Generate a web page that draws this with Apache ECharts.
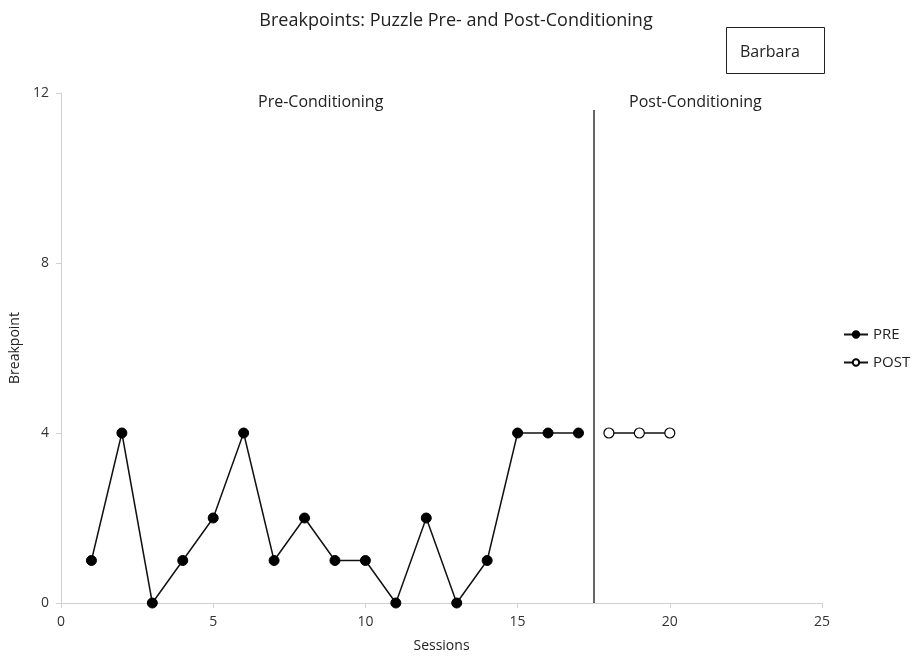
<!DOCTYPE html>
<html>
<head>
<meta charset="utf-8">
<script src="https://cdn.jsdelivr.net/npm/echarts@6/dist/echarts.min.js"></script>
<style>html,body{margin:0;padding:0;background:#fff}#c{width:912px;height:658px}</style>
</head>
<body>
<div id="c"></div>
<script>
var preSessions = [1,2,3,4,5,6,7,8,9,10,11,12,13,14,15,16,17];
var preValues   = [1,4,0,1,2,4,1,2,1,1,0,2,0,1,4,4,4];
var postSessions = [18,19,20];
var postValues   = [4,4,4];
var phaseLineX = 17.5;
var phaseLineTop = 11.6;
var xTicks = [0,5,10,15,20,25];
var yTicks = [0,4,8,12];

var FONT = 'Open Sans';
function pairs(xs, ys){ return xs.map(function(x,i){return [x, ys[i]];}); }

var chart = echarts.init(document.getElementById('c'));
chart.setOption({
  animation:false,
  backgroundColor:'#fff',
  textStyle:{fontFamily:FONT},
  title:{text:'Breakpoints: Puzzle Pre- and Post-Conditioning', left:'center', top:7,
    textStyle:{fontFamily:FONT, fontSize:18, fontWeight:'normal', color:'#222'}},
  legend:{orient:'vertical', left:838, top:322, itemWidth:24, itemHeight:8, itemGap:13,
    textStyle:{fontFamily:FONT, fontSize:15, color:'#222'},
    data:['PRE','POST']},
  grid:{left:61, right:90, top:93, bottom:52},
  xAxis:{type:'value', min:xTicks[0], max:xTicks[xTicks.length-1], interval:5,
    name:'Sessions', nameLocation:'middle', nameGap:36,
    nameTextStyle:{fontFamily:FONT, fontSize:14, color:'#222'},
    axisLine:{show:true, lineStyle:{color:'#d0d0d0', width:1}},
    axisTick:{show:true, length:5, lineStyle:{color:'#d0d0d0'}},
    axisLabel:{fontFamily:FONT, fontSize:14, color:'#333', margin:12},
    splitLine:{show:false}},
  yAxis:{type:'value', min:yTicks[0], max:yTicks[yTicks.length-1], interval:4,
    name:'Breakpoint', nameLocation:'middle', nameGap:36,
    nameTextStyle:{fontFamily:FONT, fontSize:14, color:'#222'},
    axisLine:{show:true, lineStyle:{color:'#d0d0d0', width:1}},
    axisTick:{show:true, length:5, lineStyle:{color:'#d0d0d0'}},
    axisLabel:{fontFamily:FONT, fontSize:14, color:'#333', margin:12},
    splitLine:{show:false}},
  series:[
    {name:'PRE', type:'line', data:pairs(preSessions, preValues),
      symbol:'circle', symbolSize:10,
      lineStyle:{color:'#111', width:1.5},
      itemStyle:{color:'#000', borderColor:'#000', borderWidth:1},
      markLine:{silent:true, symbol:'none', label:{show:false},
        lineStyle:{color:'#333', width:1.5, type:'solid'},
        data:[[{coord:[phaseLineX,0]},{coord:[phaseLineX,phaseLineTop]}]]}},
    {name:'POST', type:'line', data:pairs(postSessions, postValues),
      symbol:'circle', symbolSize:10,
      lineStyle:{color:'#111', width:1.5},
      itemStyle:{color:'#fff', borderColor:'#000', borderWidth:1.2}}
  ],
  graphic:[
    {type:'text', left:258, top:94, style:{text:'Pre-Conditioning', font:'16px "Open Sans"', fill:'#222'}},
    {type:'text', left:629, top:94, style:{text:'Post-Conditioning', font:'16px "Open Sans"', fill:'#222'}},
    {type:'rect', shape:{x:726.5, y:27.5, width:98, height:46}, style:{fill:'#fff', stroke:'#222', lineWidth:1}},
    {type:'text', left:740, top:44, style:{text:'Barbara', font:'16px "Open Sans"', fill:'#222'}}
  ]
});
</script>
</body>
</html>
